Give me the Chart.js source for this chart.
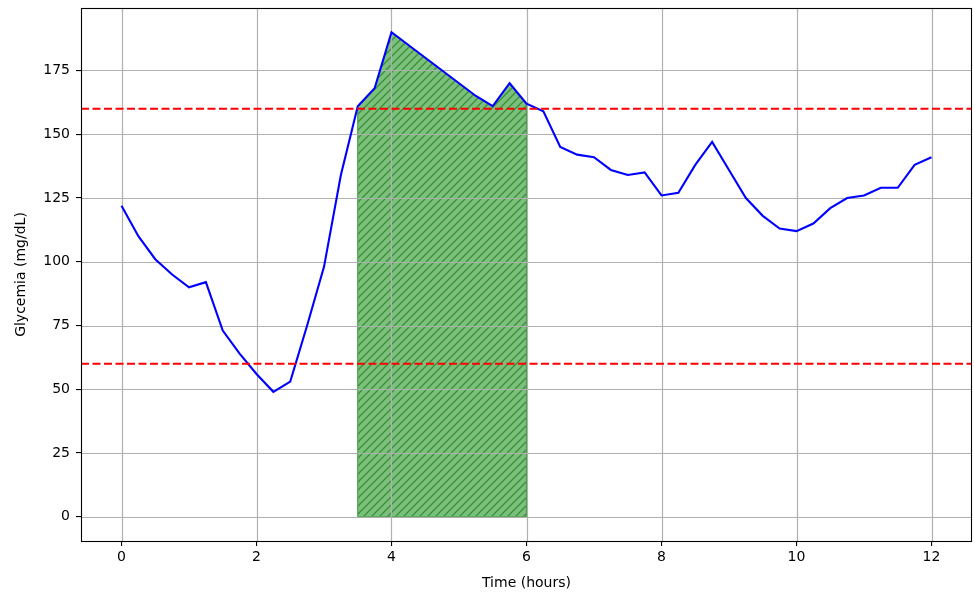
<!DOCTYPE html>
<html>
<head>
<meta charset="utf-8">
<script src="https://cdn.jsdelivr.net/npm/chart.js@4.4.1/dist/chart.umd.min.js"></script>
<style>
  html, body { margin: 0; padding: 0; background: #ffffff; }
  canvas { display: block; }
</style>
</head>
<body>
<canvas id="c" width="974" height="592"></canvas>
<script>
// ---- Data ----
const timeHours = [0, 0.25, 0.5, 0.75, 1, 1.25, 1.5, 1.75, 2, 2.25, 2.5, 2.75, 3, 3.25, 3.5, 3.75,
  4, 4.25, 4.5, 4.75, 5, 5.25, 5.5, 5.75, 6, 6.25, 6.5, 6.75, 7, 7.25, 7.5, 7.75,
  8, 8.25, 8.5, 8.75, 9, 9.25, 9.5, 9.75, 10, 10.25, 10.5, 10.75, 11, 11.25, 11.5, 11.75, 12];
const glycemia = [122, 110, 101, 95, 90, 92, 73, 64, 56, 49, 53, 75, 98, 134, 161, 168,
  190, 185, 180, 175, 170, 165, 161, 170, 162, 159, 145, 142, 141, 136, 134, 135,
  126, 127, 138, 147, 136, 125, 118, 113, 112, 115, 121, 125, 126, 129, 129, 138, 141];
const upperThreshold = 160;
const lowerThreshold = 60;
const shadedStart = 3.5;
const shadedEnd = 6;
const xTickValues = [0, 2, 4, 6, 8, 10, 12];
const yTickValues = [0, 25, 50, 75, 100, 125, 150, 175];
const xRange = [-0.6, 12.6];
const yRange = [-9.5, 199.5];

// ---- Hatch pattern ----
function makeHatch() {
  const s = 8;
  const c = document.createElement('canvas');
  c.width = s; c.height = s;
  const g = c.getContext('2d');
  g.fillStyle = 'rgb(125,192,125)';
  g.fillRect(0, 0, s, s);
  g.strokeStyle = 'rgb(55,145,55)';
  g.lineWidth = 1.3;
  g.beginPath();
  g.moveTo(-1, s + 1); g.lineTo(s + 1, -1);
  g.moveTo(-1, 1); g.lineTo(1, -1);
  g.moveTo(s - 1, s + 1); g.lineTo(s + 1, s - 1);
  g.stroke();
  return g.createPattern(c, 'repeat');
}

const linePts = timeHours.map((t, i) => ({ x: t, y: glycemia[i] }));
const fillPts = linePts.filter(p => p.x >= shadedStart && p.x <= shadedEnd);

const FONT = "'DejaVu Sans', sans-serif";

const overlayPlugin = {
  id: 'overlay',
  afterDatasetDraw(chart, args) {
    if (args.index !== 3) return;
    const ctx = chart.ctx;
    const xs = chart.scales.x, ys = chart.scales.y;
    const a = chart.chartArea;
    ctx.save();
    // fill polygon edges
    ctx.strokeStyle = 'rgb(70,160,70)';
    ctx.lineWidth = 1.2;
    ctx.beginPath();
    const first = fillPts[0], last = fillPts[fillPts.length - 1];
    ctx.moveTo(xs.getPixelForValue(first.x), ys.getPixelForValue(first.y));
    ctx.lineTo(xs.getPixelForValue(first.x), ys.getPixelForValue(0));
    ctx.lineTo(xs.getPixelForValue(last.x), ys.getPixelForValue(0));
    ctx.lineTo(xs.getPixelForValue(last.x), ys.getPixelForValue(last.y));
    ctx.stroke();
    // grid above the fill
    ctx.strokeStyle = '#b0b0b0';
    ctx.lineWidth = 1.2;
    ctx.beginPath();
    xTickValues.forEach(v => {
      const px = Math.round(xs.getPixelForValue(v)) + 0.5;
      ctx.moveTo(px, a.top); ctx.lineTo(px, a.bottom);
    });
    yTickValues.forEach(v => {
      const py = Math.round(ys.getPixelForValue(v)) + 0.5;
      ctx.moveTo(a.left, py); ctx.lineTo(a.right, py);
    });
    ctx.stroke();
    ctx.restore();
  },
  afterDraw(chart) {
    const ctx = chart.ctx;
    const a = chart.chartArea;
    ctx.save();
    ctx.strokeStyle = '#000000';
    ctx.lineWidth = 1.1;
    ctx.strokeRect(Math.round(a.left) + 0.5, Math.round(a.top) + 0.5,
      Math.round(a.right - a.left) - 1, Math.round(a.bottom - a.top));
    ctx.restore();
  }
};

new Chart(document.getElementById('c'), {
  type: 'line',
  data: {
    datasets: [
      {
        label: 'upper',
        data: [{ x: xRange[0], y: upperThreshold }, { x: xRange[1], y: upperThreshold }],
        borderColor: '#ff0000', borderWidth: 2, borderDash: [8, 3.5],
        pointRadius: 0, fill: false, order: 0
      },
      {
        label: 'lower',
        data: [{ x: xRange[0], y: lowerThreshold }, { x: xRange[1], y: lowerThreshold }],
        borderColor: '#ff0000', borderWidth: 2, borderDash: [8, 3.5],
        pointRadius: 0, fill: false, order: 1
      },
      {
        label: 'Glycemia',
        data: linePts,
        borderColor: '#0000ff', borderWidth: 2.1,
        pointRadius: 0, fill: false, tension: 0, order: 2
      },
      {
        label: 'shaded',
        data: fillPts,
        borderColor: 'rgb(70,160,70)', borderWidth: 1,
        backgroundColor: makeHatch(),
        pointRadius: 0, fill: 'origin', tension: 0, order: 3
      }
    ]
  },
  options: {
    responsive: false,
    animation: false,
    devicePixelRatio: 1,
    layout: { padding: { top: 8, right: 2, left: 0, bottom: 0 } },
    plugins: { legend: { display: false }, tooltip: { enabled: false } },
    scales: {
      x: {
        type: 'linear',
        min: xRange[0], max: xRange[1],
        afterBuildTicks(scale) { scale.ticks = xTickValues.map(v => ({ value: v })); },
        afterFit(scale) { scale.height = 51; scale.paddingLeft = 0; scale.paddingRight = 0; },
        ticks: {
          color: '#000000', font: { family: FONT, size: 14 }, padding: 3,
          maxRotation: 0, autoSkip: false,
          callback: v => String(v)
        },
        grid: { color: 'rgba(0,0,0,0)', lineWidth: 1.1, tickColor: '#000000', tickLength: 5, tickWidth: 1.1 },
        border: { display: false },
        title: { display: true, text: 'Time (hours)', color: '#000000',
          font: { family: FONT, size: 14 }, padding: { top: 6, bottom: 0 } }
      },
      y: {
        type: 'linear',
        min: yRange[0], max: yRange[1],
        afterBuildTicks(scale) { scale.ticks = yTickValues.map(v => ({ value: v })); },
        afterFit(scale) { scale.width = 81; scale.paddingTop = 0; scale.paddingBottom = 0; },
        ticks: {
          color: '#000000', font: { family: FONT, size: 14 }, padding: 6,
          autoSkip: false,
          callback: v => String(v)
        },
        grid: { color: 'rgba(0,0,0,0)', lineWidth: 1.1, tickColor: '#000000', tickLength: 5, tickWidth: 1.1 },
        border: { display: false },
        title: { display: true, text: 'Glycemia (mg/dL)', color: '#000000',
          font: { family: FONT, size: 14 }, padding: { top: 13, bottom: 0 } }
      }
    }
  },
  plugins: [overlayPlugin]
});
</script>
</body>
</html>
